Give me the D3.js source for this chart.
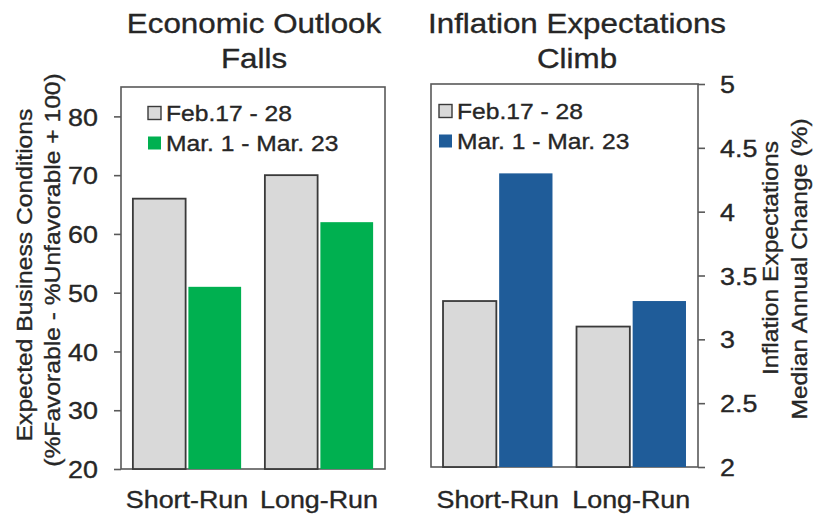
<!DOCTYPE html>
<html>
<head>
<meta charset="utf-8">
<script src="https://cdn.jsdelivr.net/npm/d3@7"></script>
<style>
  body { margin: 0; background: #fff; }
  svg { display: block; font-family: "Liberation Sans", Arial, sans-serif; }
</style>
</head>
<body>
<svg id="chart" width="815" height="514"></svg>
<script>
"use strict";
//chart values
var categories = ['Short-Run', 'Long-Run'];
var seriesNames = ['Feb.17 - 28', 'Mar. 1 - Mar. 23'];
var outlookFeb = [66, 70];
var outlookMar = [51, 62];
var inflationFeb = [3.3, 3.1];
var inflationMar = [4.3, 3.3];
var outlookTicks = [20, 30, 40, 50, 60, 70, 80];
var inflationTicks = [2, 2.5, 3, 3.5, 4, 4.5, 5];

//the original glyphs are a bit wider than Arial, so text gets stretched along its direction
var K = 1.12;
var textColor = '#262626';
var frameColor = '#595959';
var svg = d3.select('#chart');

function addText(x, y, str, size, anchor, rot) {
	var g = svg.append('g')
		.attr('transform', 'translate(' + x + ',' + y + ') rotate(' + (rot || 0) + ') scale(' + K + ',1)');
	g.append('text')
		.attr('text-anchor', anchor || 'middle')
		.style('font-size', size + 'px')
		.style('fill', textColor)
		.style('stroke', textColor)
		.style('stroke-width', 0.35)
		.text(str);
	return g;
}

function drawPanel(opts) {
	var x = d3.scaleBand().domain(categories).range([opts.left, opts.right]);
	var bw = x.bandwidth();
	var xSub = d3.scaleBand().domain(seriesNames).range([bw * 0.09, bw * 0.91]).paddingInner(0.05);
	var y = d3.scaleLinear().domain(opts.domain).range([opts.bottom, opts.top]);

	var rows = categories.map(function(c, i) {
		return [{cat: c, s: seriesNames[0], v: opts.feb[i]}, {cat: c, s: seriesNames[1], v: opts.mar[i]}];
	});
	var bars = [].concat.apply([], rows);

	//frame
	svg.append('rect')
		.attr('x', opts.left).attr('y', y(opts.domain[1]))
		.attr('width', opts.right - opts.left).attr('height', opts.bottom - y(opts.domain[1]))
		.style('fill', 'none').style('stroke', frameColor).style('stroke-width', 1.6);

	svg.selectAll(null).data(bars).enter().append('rect')
		.attr('x', function(d) { return x(d.cat) + xSub(d.s); })
		.attr('y', function(d) { return y(d.v); })
		.attr('width', xSub.bandwidth())
		.attr('height', function(d) { return opts.bottom - y(d.v); })
		.style('fill', function(d) { return d.s == seriesNames[0] ? '#d9d9d9' : opts.color; })
		.style('stroke', function(d) { return d.s == seriesNames[0] ? '#3a3a3a' : 'none'; })
		.style('stroke-width', 1.8);

	//value axis
	var axis = (opts.side == 'left' ? d3.axisLeft(y) : d3.axisRight(y))
		.tickValues(opts.ticks).tickSize(7).tickSizeOuter(0)
		.tickFormat(d3.format(''));
	var axisG = svg.append('g')
		.attr('transform', 'translate(' + (opts.side == 'left' ? opts.left : opts.right) + ',0)')
		.call(axis);
	axisG.select('.domain').remove();
	axisG.selectAll('line').style('stroke', frameColor).style('stroke-width', 1.6);
	axisG.selectAll('text')
		.attr('x', (opts.side == 'left' ? -opts.labelGap : opts.labelGap) / K)
		.attr('dy', '0.36em')
		.attr('transform', 'scale(' + K + ',1)')
		.style('font-family', '"Liberation Sans", Arial, sans-serif')
		.style('font-size', '24px')
		.style('fill', textColor)
		.style('stroke', textColor)
		.style('stroke-width', 0.35);

	//category labels
	categories.forEach(function(c) {
		addText(x(c) + bw / 2, opts.catY, c, 24);
	});

	//titles
	addText(opts.titleX, 33, opts.title[0], 28);
	addText(opts.titleX, 68, opts.title[1], 28);

	//axis title, two rotated lines
	opts.axisTitle.forEach(function(t, i) {
		addText(opts.axisTitleX[i], opts.axisTitleY[i], t, 22, 'middle', -90)
			.select('text').attr('dy', '0.35em');
	});

	//legend
	seriesNames.forEach(function(s, i) {
		var ly = opts.legendY + i * 30;
		svg.append('rect')
			.attr('x', opts.legendX).attr('y', ly - 6.5)
			.attr('width', 13).attr('height', 13)
			.style('fill', i == 0 ? '#d9d9d9' : opts.color)
			.style('stroke', i == 0 ? '#3a3a3a' : 'none')
			.style('stroke-width', 1.4);
		addText(opts.legendX + 18, ly, s, 22, 'start')
			.select('text').attr('dy', '0.36em');
	});
}

drawPanel({
	left: 121, right: 385, top: 87, bottom: 469,
	domain: [20, 85], ticks: outlookTicks, side: 'left', labelGap: 23,
	feb: outlookFeb, mar: outlookMar, color: '#00b050',
	catY: 508, title: ['Economic Outlook', 'Falls'], titleX: 254,
	axisTitle: ['Expected Business Conditions', '(%Favorable - %Unfavorable + 100)'],
	axisTitleX: [24, 52], axisTitleY: [275, 270],
	legendX: 148, legendY: 113
});

drawPanel({
	left: 431, right: 698, top: 84, bottom: 467,
	domain: [2, 5], ticks: inflationTicks, side: 'right', labelGap: 22,
	feb: inflationFeb, mar: inflationMar, color: '#1f5c99',
	catY: 508, title: ['Inflation Expectations', 'Climb'], titleX: 577,
	axisTitle: ['Inflation Expectations', 'Median Annual Change (%)'],
	axisTitleX: [770, 799], axisTitleY: [258, 269],
	legendX: 439, legendY: 111
});
</script>
</body>
</html>
